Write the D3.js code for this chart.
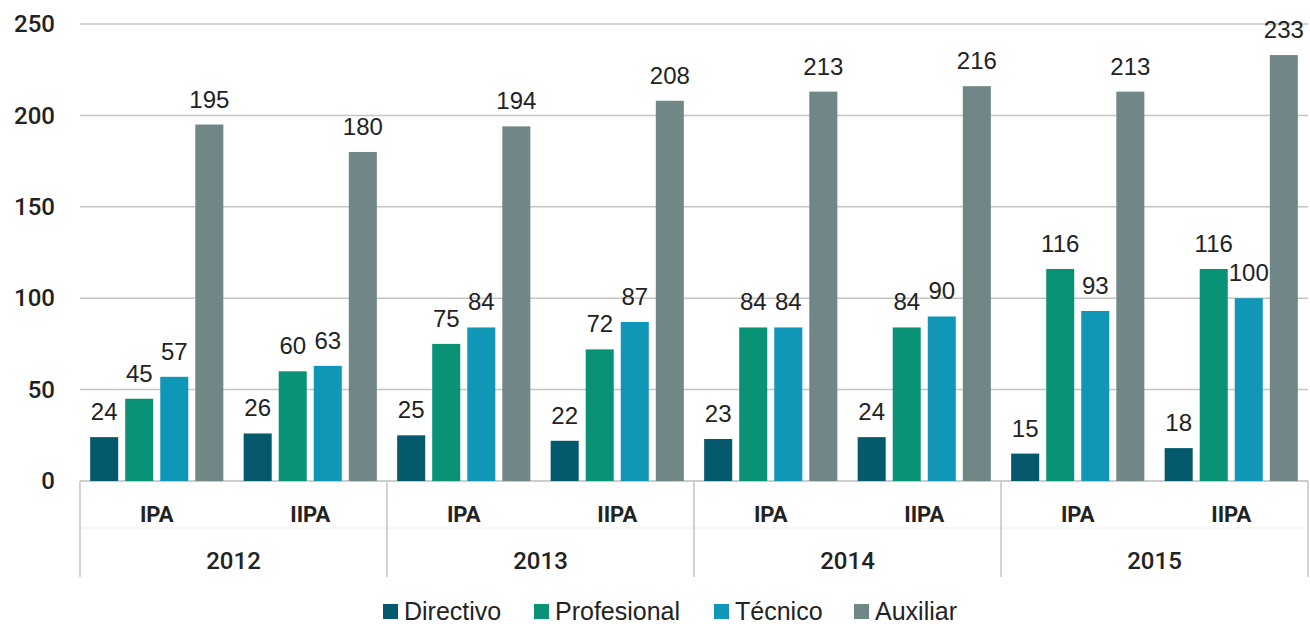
<!DOCTYPE html>
<html>
<head>
<meta charset="utf-8">
<script src="https://cdn.jsdelivr.net/npm/d3@7"></script>
<style>
  body { margin: 0; background: #fff; }
  svg { display: block; }
</style>
</head>
<body>
<div id="graph"></div>
<script>
// data
var years    = ["2012", "2013", "2014", "2015"];
var periods  = ["IPA", "IIPA"];
var series   = ["Directivo", "Profesional", "Técnico", "Auxiliar"];
var colors   = ["#045a6c", "#0a9276", "#1097b8", "#718686"];
var yTicks   = [0, 50, 100, 150, 200, 250];

// one array per series, order: 2012 IPA, 2012 IIPA, 2013 IPA, ...
var directivo   = [24, 26, 25, 22, 23, 24, 15, 18];
var profesional = [45, 60, 75, 72, 84, 84, 116, 116];
var tecnico     = [57, 63, 84, 87, 84, 90, 93, 100];
var auxiliar    = [195, 180, 194, 208, 213, 216, 213, 233];

var values = [directivo, profesional, tecnico, auxiliar];

var W = 1310, H = 624;
var margin = {top: 24, right: 2, left: 80},
    plotW  = W - margin.left - margin.right,
    plotH  = 481 - margin.top;

var cats = [];
years.forEach(function (yr) {
  periods.forEach(function (p) { cats.push(yr + "|" + p); });
});

var x0 = d3.scaleBand().domain(cats).range([0, plotW]);
var x1 = d3.scaleBand().domain(series).range([0, x0.bandwidth()])
  .paddingInner(0.2).paddingOuter(0.29);
var xYear = d3.scaleBand().domain(years).range([0, plotW]);
var y = d3.scaleLinear().domain([0, 250]).range([plotH, 0]);

var svg = d3.select("#graph").append("svg")
  .attr("width", W).attr("height", H);

var g = svg.append("g")
  .attr("transform", "translate(" + margin.left + "," + margin.top + ")");

// gridlines
g.selectAll(".grid")
  .data(yTicks)
  .enter().append("line")
  .attr("x1", 0).attr("x2", plotW)
  .attr("y1", function (d) { return y(d); })
  .attr("y2", function (d) { return y(d); })
  .attr("stroke", function (d) { return d === 0 ? "#bdbdbd" : "#c4c4c4"; })
  .attr("stroke-width", 1.5);

// y axis labels
var yAxis = d3.axisLeft(y).tickValues(yTicks).tickSize(0).tickPadding(25);
g.append("g").call(yAxis)
  .call(function (a) { a.select(".domain").remove(); })
  .selectAll("text")
  .attr("font-family", "Roboto, 'Liberation Sans', sans-serif")
  .attr("font-size", "24px")
  .attr("font-weight", "500")
  .attr("fill", "#222");

// bars
var cg = g.selectAll(".cat")
  .data(cats)
  .enter().append("g")
  .attr("transform", function (d) { return "translate(" + x0(d) + ",0)"; });

cg.selectAll("rect")
  .data(function (d, i) {
    return series.map(function (s, j) { return {s: s, v: values[j][i], c: colors[j]}; });
  })
  .enter().append("rect")
  .attr("x", function (d) { return x1(d.s); })
  .attr("width", x1.bandwidth())
  .attr("y", function (d) { return y(d.v); })
  .attr("height", function (d) { return plotH - y(d.v); })
  .attr("fill", function (d) { return d.c; });

cg.selectAll("text")
  .data(function (d, i) {
    return series.map(function (s, j) { return {s: s, v: values[j][i]}; });
  })
  .enter().append("text")
  .attr("x", function (d) { return x1(d.s) + x1.bandwidth() / 2; })
  .attr("y", function (d) { return y(d.v) - 17; })
  .attr("text-anchor", "middle")
  .attr("font-family", "'Liberation Sans', Arial, sans-serif")
  .attr("font-size", "24px")
  .attr("fill", "#222")
  .text(function (d) { return d.v; });

// category axis
var axisG = g.append("g").attr("transform", "translate(0," + plotH + ")");

// faint line between period row and year row
axisG.append("line")
  .attr("x1", 0).attr("x2", plotW)
  .attr("y1", 47).attr("y2", 47)
  .attr("stroke", "#f0f0f0").attr("stroke-width", 1);

var bounds = years.map(function (yr) { return xYear(yr); }).concat([plotW]);
axisG.selectAll(".sep")
  .data(bounds)
  .enter().append("line")
  .attr("x1", function (d) { return d; }).attr("x2", function (d) { return d; })
  .attr("y1", 0).attr("y2", 96)
  .attr("stroke", "#c4c4c4").attr("stroke-width", 1.5);

axisG.selectAll(".plab")
  .data(cats)
  .enter().append("text")
  .attr("x", function (d) { return x0(d) + x0.bandwidth() / 2; })
  .attr("y", 41)
  .attr("text-anchor", "middle")
  .attr("font-family", "Roboto, 'Liberation Sans', sans-serif")
  .attr("font-size", "22px")
  .attr("font-weight", "bold")
  .attr("fill", "#222")
  .text(function (d) { return d.split("|")[1]; });

axisG.selectAll(".ylab")
  .data(years)
  .enter().append("text")
  .attr("x", function (d) { return xYear(d) + xYear.bandwidth() / 2; })
  .attr("y", 88)
  .attr("text-anchor", "middle")
  .attr("font-family", "Roboto, 'Liberation Sans', sans-serif")
  .attr("font-size", "24px")
  .attr("font-weight", "500")
  .attr("fill", "#222")
  .text(function (d) { return d; });

// legend
var legX = [383, 534, 714, 854];
var leg = svg.append("g");
var li = leg.selectAll(".li")
  .data(series)
  .enter().append("g")
  .attr("transform", function (d, i) { return "translate(" + legX[i] + ",604)"; });
li.append("rect")
  .attr("width", 15).attr("height", 15)
  .attr("fill", function (d, i) { return colors[i]; });
li.append("text")
  .attr("x", 21).attr("y", 16)
  .attr("font-family", "'Liberation Sans', Arial, sans-serif")
  .attr("font-size", "25px")
  .attr("fill", "#222")
  .text(function (d) { return d; });
</script>
</body>
</html>
